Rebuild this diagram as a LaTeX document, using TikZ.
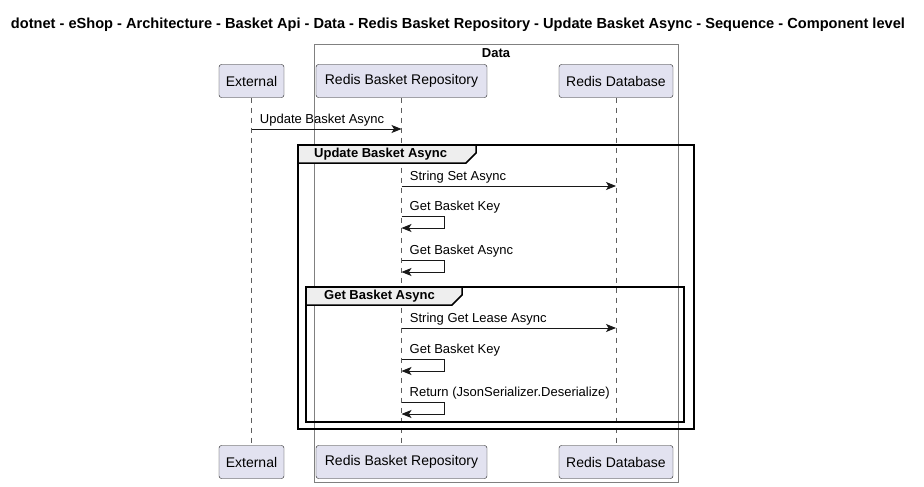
\documentclass[tikz,border=0pt]{standalone}
\usepackage{fontspec}
\setmainfont{Liberation Sans}
\usetikzlibrary{arrows.meta}
\definecolor{partfill}{HTML}{E2E2F0}
\definecolor{partline}{HTML}{181818}
\definecolor{tabfill}{HTML}{EEEEEE}
\tikzset{
    part/.style={draw=partline, fill=partfill, rounded corners=2.5pt, minimum height=33pt, inner xsep=6pt, font=\fontsize{14}{16}\selectfont},
    life/.style={draw=partline!70, line width=0.6pt, dash pattern=on 5pt off 5pt},
    msg/.style={draw=partline, line width=0.9pt, -{Stealth[length=10pt, width=8pt, inset=2.5pt]}},
    msgtext/.style={anchor=south west, inner sep=0pt, font=\fontsize{13}{15}\selectfont},
    grp/.style={draw=black, line width=1.5pt},
    grptext/.style={anchor=west, inner sep=0pt, font=\fontsize{13}{15}\selectfont\bfseries}
}
\begin{document}
\begin{tikzpicture}[line join=miter, x=1pt, y=-1pt]
                \useasboundingbox (0,0) rectangle (924,487);
                \node[font=\fontsize{14.6}{17}\selectfont\bfseries] (title) at (458,25) {dotnet - eShop - Architecture - Basket Api - Data - Redis Basket Repository - Update Basket Async - Sequence - Component level};
                \draw[draw=gray, line width=0.8pt] (314,44) rectangle (678,482);
                \node[font=\fontsize{13}{15}\selectfont\bfseries] (data) at (496,53) {Data};
                \foreach \name/\x/\w/\txt in {ext/251.5/65/External, repo/401.5/171/Redis Basket Repository, rdb/616/114/Redis Database} {
                    \node[part, minimum width=\w pt] (\name) at (\x,81) {\txt};
                    \node[part, minimum width=\w pt] (\name b) at (\x,462) {\txt};
                }
                \foreach \name in {ext, repo, rdb}
                    \draw[life] (\name.south) -- (\name b.north);
                \foreach \point/\y in {m1/129, m2/186, s1/216, s1e/228, s2/260, s2e/272, m3/328, s3/359, s3e/371, s4/402, s4e/414}
                    \coordinate (\point) at (0,\y);
                \draw[grp] (298,145) rectangle (694,429);
                \draw[grp, fill=tabfill] (298,145) -- (476,145) -- (476,153) -- (466,163) -- (298,163) -- cycle;
                \node[grptext] (g1) at (314,154.5) {Update Basket Async};
                \draw[grp] (306,287) rectangle (684,422);
                \draw[grp, fill=tabfill] (306,287) -- (462,287) -- (462,295) -- (452,305) -- (306,305) -- cycle;
                \node[grptext] (g2) at (324,296.5) {Get Basket Async};
                \draw[msg] (ext |- m1) -- (repo |- m1) node[msgtext] at ([shift={(8,-2)}]ext |- m1) {Update Basket Async};
                \draw[msg] (repo |- m2) -- (rdb |- m2) node[msgtext] at ([shift={(8,-2)}]repo |- m2) {String Set Async};
                \draw[msg] (repo |- m3) -- (rdb |- m3) node[msgtext] at ([shift={(8,-2)}]repo |- m3) {String Get Lease Async};
                \foreach \a/\b/\txt in {s1/s1e/Get Basket Key, s2/s2e/Get Basket Async, s3/s3e/Get Basket Key, s4/s4e/Return (JsonSerializer.Deserialize)} {
                    \draw[msg] (repo |- \a) -- ++(43,0) |- (repo |- \b);
                    \node[msgtext] at ([shift={(8,-3)}]repo |- \a) {\txt};
                }
            \end{tikzpicture}
\end{document}
